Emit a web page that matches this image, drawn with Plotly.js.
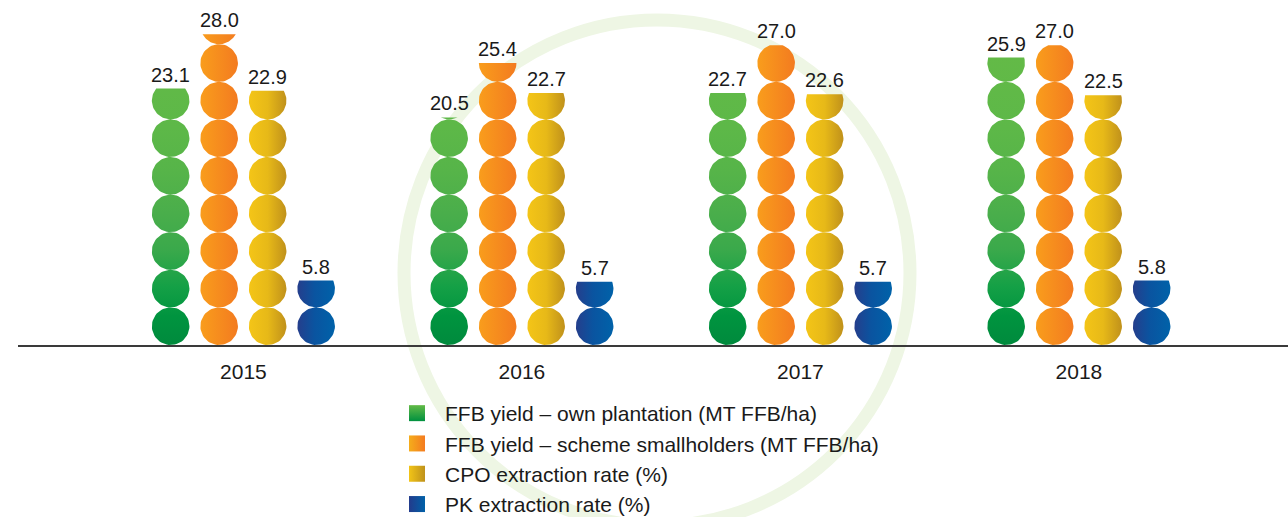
<!DOCTYPE html>
<html><head><meta charset="utf-8">
<script src="https://cdn.plot.ly/plotly-3.0.1.min.js"></script>
<style>html,body{margin:0;padding:0;background:#fff}#chart{width:1288px;height:517px}</style>
</head><body><div id="chart"></div>
<script>
// ---- data ----
const years = ['2015', '2016', '2017', '2018'];
const seriesNames = [
  'FFB yield – own plantation (MT FFB/ha)',
  'FFB yield – scheme smallholders (MT FFB/ha)',
  'CPO extraction rate (%)',
  'PK extraction rate (%)'
];
const ownPlantation = [23.1, 20.5, 22.7, 25.9];
const schemeSmallholders = [28.0, 25.4, 27.0, 27.0];
const cpoRate = [22.9, 22.7, 22.6, 22.5];
const pkRate = [5.8, 5.7, 5.7, 5.8];

// ---- geometry / style ----
const W = 1288, H = 517, ML = 18, MR = 0, MT = 0, MB = 172;
const plotW = W - ML - MR, plotH = H - MT - MB;
const pxPerY = 11.1;
const yMax = plotH / pxPerY;
const groupPx = 278.5, firstGroupPx = 243.4;
const xMin = -(firstGroupPx - ML) / groupPx;
const xMax = xMin + plotW / groupPx;
const barPitchPx = 48.5, radiusPx = 18.8;
const rx = radiusPx / groupPx, ry = radiusPx / pxPerY, pitchY = 2 * ry;
const offsets = [-1.5, -0.5, 0.5, 1.5].map(k => k * barPitchPx / groupPx);

const seriesValues = [ownPlantation, schemeSmallholders, cpoRate, pkRate];
const gradients = [
  {type: 'vertical', start: 0, stop: 26, colorscale: [[0,'#008a3d'],[0.1,'#00943f'],[0.2,'#14a046'],[0.33,'#3aa94b'],[0.46,'#4aae4b'],[0.6,'#56b449'],[0.75,'#5db848'],[1,'#63ba47']]},
  {type: 'horizontal', colorscale: [[0,'#f99d1c'],[1,'#f37b20']]},
  {type: 'horizontal', colorscale: [[0,'#f4c517'],[0.5,'#e7b918'],[1,'#c0911b']]},
  {type: 'horizontal', colorscale: [[0,'#253e8c'],[0.45,'#0a54a0'],[1,'#0062a9']]}
];
const legendMarkers = [
  {color: '#63ba47', gradient: {type: 'vertical', color: '#00913f'}},
  {color: '#f5ad1b', gradient: {type: 'horizontal', color: '#f47b20'}},
  {color: '#f2c417', gradient: {type: 'horizontal', color: '#bf921b'}},
  {color: '#233b8c', gradient: {type: 'horizontal', color: '#0061a8'}}
];

// stacked circles, top one cut flat at the value
function circleStack(xc, value) {
  const xs = [], ys = [];
  const N = 60;
  for (let k = 0; ; k++) {
    const yc = (k + 0.5) * pitchY;
    if (yc - ry >= value) break;
    let a0 = 0, a1 = 2 * Math.PI;
    if (yc + ry > value) {
      const t = Math.asin((value - yc) / ry);
      a0 = Math.PI - t; a1 = 2 * Math.PI + t;
    }
    for (let i = 0; i <= N; i++) {
      const a = a0 + (a1 - a0) * i / N;
      xs.push(xc + rx * Math.cos(a));
      ys.push(yc + ry * Math.sin(a));
    }
    xs.push(null); ys.push(null);
  }
  return {xs, ys};
}

const traces = [];
seriesValues.forEach((vals, s) => {
  vals.forEach((v, g) => {
    const c = circleStack(g + offsets[s], v);
    traces.push({
      type: 'scatter', mode: 'lines', x: c.xs, y: c.ys,
      fill: 'toself', line: {width: 0, color: 'rgba(0,0,0,0)'},
      fillgradient: gradients[s], fillcolor: gradients[s].colorscale[0][1],
      connectgaps: false, hoverinfo: 'skip', showlegend: false
    });
  });
});
seriesNames.forEach((name, s) => {
  traces.push({
    type: 'scatter', mode: 'markers', x: [null], y: [null], name: name,
    legendgroup: 'g' + s,
    marker: Object.assign({symbol: 'square', size: 16}, legendMarkers[s])
  });
});

const annotations = [];
seriesValues.forEach((vals, s) => {
  vals.forEach((v, g) => {
    annotations.push({
      x: g + offsets[s], y: v, xref: 'x', yref: 'y', text: v.toFixed(1),
      showarrow: false, yanchor: 'bottom', yshift: 1,
      font: {family: 'Liberation Sans, Arial, sans-serif', size: 20, color: '#1a1a1a'}
    });
  });
});

const ringCx = 657, ringCy = 273, ringR = 253;
const toPX = px => (px - ML) / plotW, toPY = py => (MT + plotH - py) / plotH;

const layout = {
  width: W, height: H,
  margin: {l: ML, r: MR, t: MT, b: MB, pad: 0, autoexpand: false},
  paper_bgcolor: '#ffffff', plot_bgcolor: 'rgba(0,0,0,0)',
  font: {family: 'Liberation Sans, Arial, sans-serif', color: '#1a1a1a'},
  xaxis: {
    range: [xMin, xMax], tickvals: [0, 1, 2, 3], ticktext: years,
    showgrid: false, zeroline: false, showline: true, linecolor: '#3a3a3a', linewidth: 1.5,
    ticks: '', tickfont: {size: 21, color: '#1a1a1a'}, ticklabelstandoff: 7, fixedrange: true
  },
  yaxis: {range: [0, yMax], visible: false, fixedrange: true},
  showlegend: true,
  legend: {
    x: toPX(389), xanchor: 'left', y: toPY(393), yanchor: 'top',
    font: {size: 21, color: '#1a1a1a'}, itemwidth: 46, tracegroupgap: 0,
    traceorder: 'grouped', bgcolor: 'rgba(0,0,0,0)', borderwidth: 0,
    itemclick: false, itemdoubleclick: false
  },
  shapes: [{
    type: 'circle', xref: 'paper', yref: 'paper', layer: 'below',
    x0: toPX(ringCx - ringR), x1: toPX(ringCx + ringR),
    y0: toPY(ringCy + ringR), y1: toPY(ringCy - ringR),
    line: {color: 'rgb(238,246,228)', width: 13}, fillcolor: 'rgba(0,0,0,0)'
  }],
  annotations: annotations
};

Plotly.newPlot('chart', traces, layout, {displayModeBar: false, staticPlot: true});
</script></body></html>
